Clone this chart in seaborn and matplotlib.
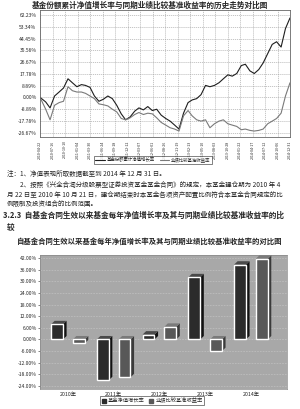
import pandas as pd
import matplotlib
matplotlib.use('Agg')
import matplotlib.pyplot as plt
import seaborn as sns
from matplotlib.patches import Polygon

# 走势图数据（月末读数，单位 %）
start_date = '2010-04-22'
end_date = '2014-12-31'
fund_nav = [0, -3.5, -8, 1, 4, 7, 14, 11, 8,
            9.6, 9, 7.5, 1, -3, -1.5, 1, -1, -6, -12.5, -17, -14.8,
            -10.5, -8, -9.5, -7, -10, -9, -13.5, -16, -18, -21, -24, -12,
            -4, -2, -1, 2, 9, 8, 9, 11, 14, 17, 16, 18,
            24, 25, 20, 18, 21, 26, 33, 40, 42, 38, 52, 60]
bench_ret = [0, -9, -17, -6, -4, -3, 8, 5, 4,
             4, 3, 1, -1, -5, -5.6, -6.5, -9, -11, -16, -17, -15.5,
             -13, -11.5, -13, -12, -12.5, -15.5, -19, -21, -23, -24, -25.5, -14,
             -10, -14, -17, -18, -17, -23, -20, -18, -17, -20, -21, -22,
             -24.5, -24, -25, -25.5, -25, -24, -20, -18, -16, -12, 1, 11]
y_ticks_top = [62.23, 53.34, 44.45, 35.56, 26.67, 17.78, 8.89, 0.00, -8.89, -17.78, -26.67]

# 年度对比数据
years = ['2010年', '2011年', '2012年', '2013年', '2014年']
fund_yearly = [7.8, -21.0, 2.5, 32.0, 38.5]
bench_yearly = [-2.0, -19.5, 6.5, -6.0, 41.5]
y_ticks_bottom = [42, 36, 30, 24, 18, 12, 6, 0, -6, -12, -18, -24]

name_fund = '基金份额累计净值增长率'
name_bench = '业绩比较基准收益率'

sns.set_style('white')
plt.rcParams['font.family'] = ['Noto Sans CJK SC', 'DejaVu Sans']
plt.rcParams['axes.unicode_minus'] = False

dates = [pd.Timestamp(start_date)] + list(pd.date_range('2010-05-31', end_date, freq='ME'))
df_line = pd.DataFrame({
    'date': dates * 2,
    'value': fund_nav + bench_ret,
    'series': [name_fund] * len(dates) + [name_bench] * len(dates),
})

fig = plt.figure(figsize=(3.0, 4.09), dpi=100)
H = 409.0

# ---------- 上图：历史走势 ----------
ax1 = fig.add_axes([40 / 300, 1 - 137 / H, 250 / 300, 127 / H])
sns.lineplot(data=df_line, x='date', y='value', hue='series',
             palette={name_fund: '#1e1e1e', name_bench: '#7a7a7a'},
             linewidth=0.8, ax=ax1, legend=False)
ax1.set_ylim(-30, 66)
ax1.set_xlim(pd.Timestamp(start_date), pd.Timestamp(end_date))
ax1.set_yticks(y_ticks_top)
ax1.set_yticklabels([f'{v:.2f}%' for v in y_ticks_top], fontsize=3.6)
xt = pd.date_range(start_date, end_date, periods=21)
ax1.set_xticks(xt)
ax1.set_xticklabels([d.strftime('%Y-%m-%d') for d in xt], rotation=90, fontsize=2.6)
ax1.grid(True, linestyle=(0, (2, 1.5)), color='#9a9a9a', linewidth=0.4)
ax1.tick_params(length=1.5, width=0.4, pad=1)
ax1.set_xlabel('')
ax1.set_ylabel('')
for s in ax1.spines.values():
    s.set_color('#666666')
    s.set_linewidth(0.6)

h1 = [plt.Line2D([], [], color='#1e1e1e', lw=0.8), plt.Line2D([], [], color='#7a7a7a', lw=0.8)]
leg1 = fig.legend(h1, [name_fund, name_bench], loc='center', bbox_to_anchor=(0.51, 1 - 160 / H),
                  ncol=2, fontsize=3.2, frameon=True, fancybox=False, handlelength=2.2,
                  borderpad=0.3, columnspacing=1.0, handletextpad=0.4)
leg1.get_frame().set_edgecolor('#222222')
leg1.get_frame().set_linewidth(0.5)

fig.text(0.5, 1 - 5 / H, '基金份额累计净值增长率与同期业绩比较基准收益率的历史走势对比图',
         ha='center', va='center', fontsize=5.5, fontweight='bold')

# ---------- 说明文字 ----------
fs = 4.7
fig.text(7 / 300, 1 - 174 / H, '注：1、净值表现所取数据截至到 2014 年 12 月 31 日。',
         ha='left', va='center', fontsize=fs)
fig.text(20 / 300, 1 - 185 / H, '2、按照《兴全合润分级股票型证券投资基金基金合同》的规定，本基金建仓期为 2010 年 4',
         ha='left', va='center', fontsize=fs)
fig.text(7 / 300, 1 - 195 / H, '月 22 日至 2010 年 10 月 21 日，建仓期结束时本基金各项资产配置比例符合本基金合同规定的比',
         ha='left', va='center', fontsize=fs)
fig.text(7 / 300, 1 - 204 / H, '例限制及投资组合的比例范围。',
         ha='left', va='center', fontsize=fs)
fig.text(3 / 300, 1 - 215 / H, '3.2.3  自基金合同生效以来基金每年净值增长率及其与同期业绩比较基准收益率的比',
         ha='left', va='center', fontsize=5.5, fontweight='bold')
fig.text(7 / 300, 1 - 227 / H, '较', ha='left', va='center', fontsize=5.5, fontweight='bold')

fig.text(0.5, 1 - 241 / H, '自基金合同生效以来基金每年净值增长率及其与同期业绩比较基准收益率的对比图',
         ha='center', va='center', fontsize=5.3, fontweight='bold')

# ---------- 下图：年度对比 ----------
name_f2 = '基金净值增长率'
name_b2 = '业绩比较基准收益率'
df_bar = pd.DataFrame({
    'year': years * 2,
    'value': fund_yearly + bench_yearly,
    'series': [name_f2] * len(years) + [name_b2] * len(years),
})
ax2 = fig.add_axes([40 / 300, 1 - 389 / H, 247 / 300, 134 / H])
ax2.set_facecolor('#a8a8a8')
sns.barplot(data=df_bar, x='year', y='value', hue='series',
            palette={name_f2: '#2b2b2b', name_b2: '#585858'},
            width=0.95, gap=0.45, ax=ax2, legend=False, zorder=3)
ax2.set_xlim(-0.61, 4.79)
ax2.set_ylim(-25.5, 43.5)
ax2.set_yticks(y_ticks_bottom)
ax2.set_yticklabels([f'{v:.2f}%' for v in y_ticks_bottom], fontsize=3.6)
ax2.tick_params(axis='x', labelsize=3.8, length=0, pad=2)
ax2.tick_params(axis='y', length=1.5, width=0.4, pad=1, left=True)
ax2.yaxis.grid(True, linestyle=(0, (3, 2)), color='#c8c8c8', linewidth=0.4)
ax2.set_axisbelow(True)
ax2.set_xlabel('')
ax2.set_ylabel('')
for s in ax2.spines.values():
    s.set_color('#888888')
    s.set_linewidth(0.5)

# 简单的立体效果：侧面和顶面
side_col = {'#2b2b2b': '#111111', '#585858': '#3a3a3a'}
top_col = {'#2b2b2b': '#4a4a4a', '#585858': '#7a7a7a'}
for p in list(ax2.patches):
    x0 = p.get_x()
    w = p.get_width()
    y0 = min(p.get_y(), p.get_y() + p.get_height())
    y1 = max(p.get_y(), p.get_y() + p.get_height())
    dx = w * 0.3
    dy = 1.8
    fc = matplotlib.colors.to_hex(p.get_facecolor())
    ax2.add_patch(Polygon([(x0 + w, y0), (x0 + w + dx, y0 + dy), (x0 + w + dx, y1 + dy), (x0 + w, y1)],
                          closed=True, facecolor=side_col.get(fc, '#222222'), edgecolor='none', zorder=2.9))
    ax2.add_patch(Polygon([(x0, y1), (x0 + dx, y1 + dy), (x0 + w + dx, y1 + dy), (x0 + w, y1)],
                          closed=True, facecolor=top_col.get(fc, '#555555'), edgecolor='none', zorder=2.9))

h2 = [plt.Rectangle((0, 0), 1, 1, color='#2b2b2b'), plt.Rectangle((0, 0), 1, 1, color='#585858')]
leg2 = fig.legend(h2, [name_f2, name_b2], loc='center', bbox_to_anchor=(0.507, 1 - 400.5 / H),
                  ncol=2, fontsize=3.8, frameon=True, fancybox=False, handlelength=0.8,
                  handleheight=0.8, borderpad=0.3, columnspacing=0.8, handletextpad=0.4)
leg2.get_frame().set_edgecolor('#222222')
leg2.get_frame().set_linewidth(0.5)

fig.savefig('out.png', dpi=100, facecolor='white')
